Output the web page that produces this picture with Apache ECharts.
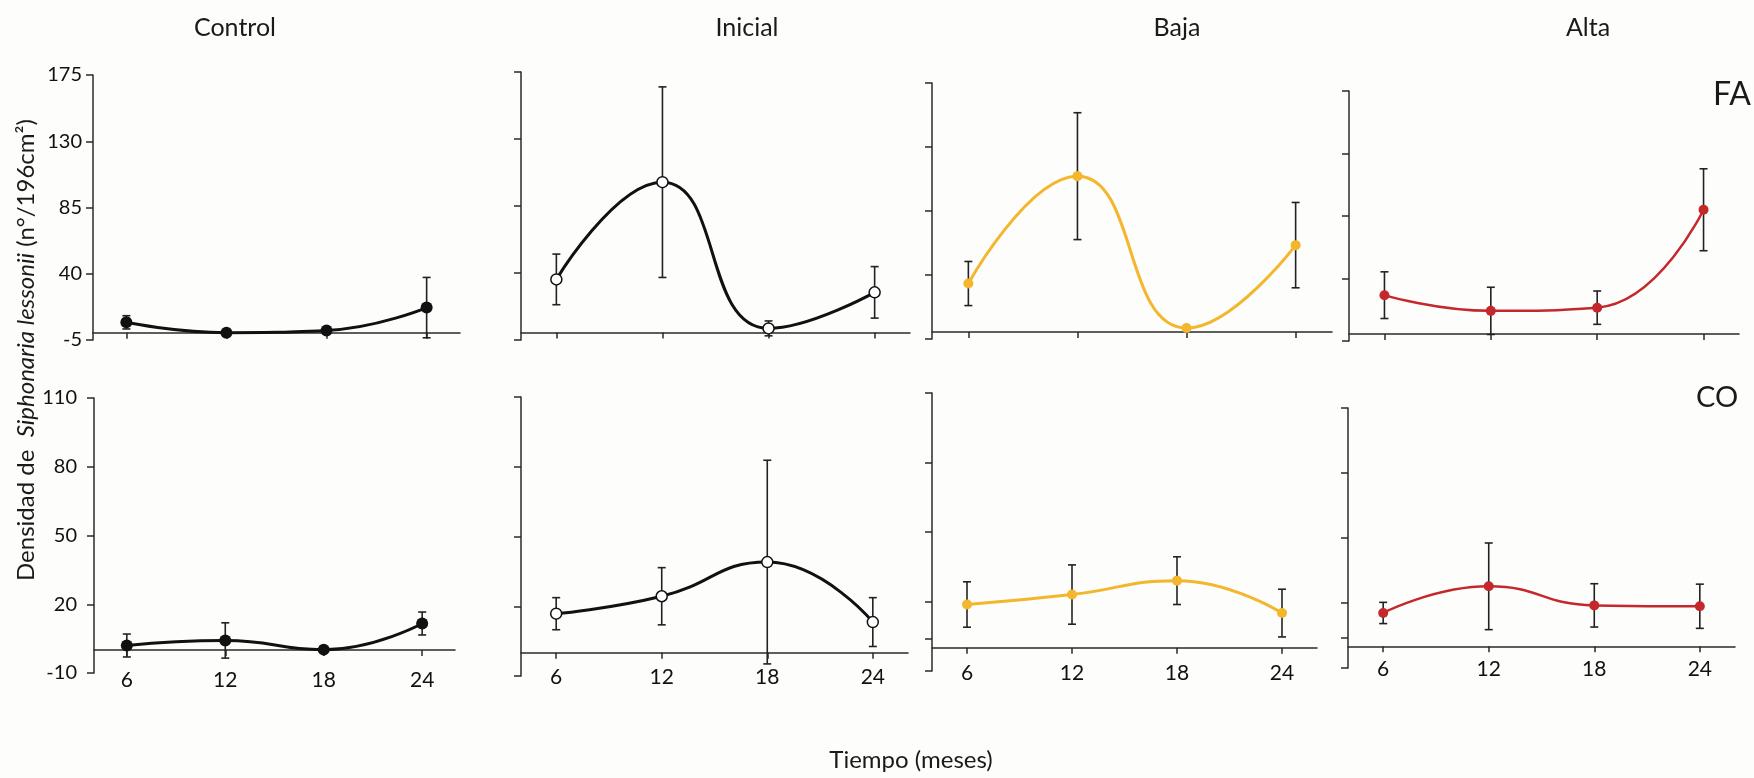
<!DOCTYPE html>
<html>
<head>
<meta charset="utf-8">
<script src="https://cdn.jsdelivr.net/npm/echarts@6/dist/echarts.min.js"></script>
<style>
html,body{margin:0;padding:0;background:#fdfdfb;}
#chart{width:1754px;height:778px;}
</style>
</head>
<body>
<div id="chart"></div>
<script>
// ---- data ----
const months = [6, 12, 18, 24];
const panelNames = ['Control', 'Inicial', 'Baja', 'Alta'];
const rowNames = ['FA', 'CO'];
const faTickLabels = [-5, 40, 85, 130, 175];
const coTickLabels = [-10, 20, 50, 80, 110];

const controlFA = [7, 0, 1.5, 17];
const controlFAerr = [4.5, 0, 1.5, 20.5];
const inicialFA = [35.7, 101, 2.8, 27];
const inicialFAerr = [17, 64, 5, 17.3];
const bajaFA = [34, 109.5, 2.7, 61];
const bajaFAerr = [15.5, 44.6, 0, 30];
const altaFA = [28, 16.7, 19, 89.5];
const altaFAerr = [16.8, 17, 12, 29.5];

const controlCO = [2, 4.2, 0.2, 11.6];
const controlCOerr = [5, 7.7, 0, 5];
const inicialCO = [16.8, 24.3, 39, 13.2];
const inicialCOerr = [6.9, 12.3, 43.8, 10.5];
const bajaCO = [18.7, 23, 29, 15];
const bajaCOerr = [9.8, 12.8, 10.3, 10.3];
const altaCO = [15.4, 27.7, 18.9, 18.5];
const altaCOerr = [4.9, 20, 10, 10.2];

// ---- layout / style ----
const FONT = 'Lato, "Open Sans", sans-serif';
const AX = '#2a2a2a';
const TXT = '#111111';
const grids = [
  {left: 93, top: 75, width: 367, height: 265},
  {left: 521, top: 72, width: 389, height: 268},
  {left: 932, top: 83, width: 400, height: 256},
  {left: 1349, top: 91, width: 390, height: 250},
  {left: 94, top: 398, width: 361, height: 275},
  {left: 521, top: 397, width: 387, height: 279},
  {left: 932, top: 393, width: 385, height: 278},
  {left: 1348, top: 408, width: 387, height: 260}
];
const xLabelMargin = [-3, -9, -8, -9];
const yLabelMargin = [11, 17];

const styles = [
  {color: '#111111', fill: '#111111', size: 12, width: 3},
  {color: '#111111', fill: '#ffffff', size: 11, width: 3},
  {color: '#f4b62c', fill: '#f4b62c', size: 10, width: 3},
  {color: '#c4282a', fill: '#c4282a', size: 10, width: 2.5}
];

const seriesVals = [
  [controlFA, inicialFA, bajaFA, altaFA],
  [controlCO, inicialCO, bajaCO, altaCO]
];
const seriesErrs = [
  [controlFAerr, inicialFAerr, bajaFAerr, altaFAerr],
  [controlCOerr, inicialCOerr, bajaCOerr, altaCOerr]
];

const gridOpts = [], xAxes = [], yAxes = [], series = [];
for (let r = 0; r < 2; r++) {
  for (let c = 0; c < 4; c++) {
    const i = r * 4 + c;
    const g = grids[i];
    gridOpts.push(Object.assign({containLabel: false, outerBoundsMode: 'none'}, g));
    xAxes.push({
      type: 'value', gridIndex: i, min: 4, max: 26,
      axisLine: {show: true, onZero: true, lineStyle: {color: AX, width: 1.5}},
      axisTick: {show: true, length: 6, customValues: months, lineStyle: {color: AX, width: 1.5}},
      axisLabel: {show: r === 1, customValues: months, margin: xLabelMargin[c],
        fontFamily: FONT, fontSize: 21, color: TXT},
      splitLine: {show: false}
    });
    let tickVals = r === 0 ? faTickLabels : coTickLabels;
    let tickOnly = tickVals.slice();
    if (r === 1 && (c === 2 || c === 3)) tickOnly = tickOnly.concat([4]);
    yAxes.push({
      type: 'value', gridIndex: i,
      min: tickVals[0], max: tickVals[tickVals.length - 1],
      axisLine: {show: true, onZero: false, lineStyle: {color: AX, width: 1.5}},
      axisTick: {show: true, length: 7, customValues: tickOnly, lineStyle: {color: AX, width: 1.5}},
      axisLabel: {show: c === 0, customValues: tickVals, margin: yLabelMargin[r],
        fontFamily: FONT, fontSize: 20, color: TXT},
      splitLine: {show: false}
    });
    const vals = seriesVals[r][c], errs = seriesErrs[r][c];
    series.push({
      type: 'custom', xAxisIndex: i, yAxisIndex: i, z: 2,
      data: months.map((m, k) => [m, vals[k], errs[k]]),
      encode: {x: 0, y: 1},
      renderItem: function (params, api) {
        const x = api.value(0), y = api.value(1), e = api.value(2);
        if (!e) return {type: 'group', children: []};
        const t = api.coord([x, y + e]);
        const b = api.coord([x, y - e]);
        const w = 4;
        const st = {stroke: '#222', lineWidth: 1.6};
        return {type: 'group', children: [
          {type: 'line', shape: {x1: t[0], y1: t[1], x2: b[0], y2: b[1]}, style: st},
          {type: 'line', shape: {x1: t[0] - w, y1: t[1], x2: t[0] + w, y2: t[1]}, style: st},
          {type: 'line', shape: {x1: b[0] - w, y1: b[1], x2: b[0] + w, y2: b[1]}, style: st}
        ]};
      }
    });
    const s = styles[c];
    series.push({
      type: 'line', xAxisIndex: i, yAxisIndex: i, z: 3,
      data: months.map((m, k) => [m, vals[k]]),
      smooth: 0.5,
      symbol: 'circle', symbolSize: s.size, showSymbol: true,
      lineStyle: {color: s.color, width: s.width},
      itemStyle: {color: s.fill, borderColor: s.color, borderWidth: c === 1 ? 1.5 : 0},
      emphasis: {disabled: true},
      animation: false
    });
  }
}

const titlePos = [235, 747, 1177, 1588];
const graphics = panelNames.map((n, k) => ({
  type: 'text', x: titlePos[k], y: 28,
  style: {text: n, font: '25px ' + FONT, fill: '#1a1a1a', textAlign: 'center', textVerticalAlign: 'middle'}
}));
graphics.push({type: 'text', x: 1732, y: 95,
  style: {text: rowNames[0], font: '32px ' + FONT, fill: '#1a1a1a', textAlign: 'center', textVerticalAlign: 'middle'}});
graphics.push({type: 'text', x: 1717, y: 398,
  style: {text: rowNames[1], font: '29px ' + FONT, fill: '#1a1a1a', textAlign: 'center', textVerticalAlign: 'middle'}});
graphics.push({type: 'text', x: 911, y: 760,
  style: {text: 'Tiempo (meses)', font: '24px ' + FONT, fill: '#1a1a1a', textAlign: 'center', textVerticalAlign: 'middle'}});
graphics.push({type: 'text', x: 26, y: 350, rotation: Math.PI / 2,
  style: {
    text: '{a|Densidad de  }{b|Siphonaria lessonii}{a| (n°/196cm²)}',
    textAlign: 'center', textVerticalAlign: 'middle',
    rich: {
      a: {fontFamily: FONT, fontSize: 24, fill: '#1a1a1a', color: '#1a1a1a'},
      b: {fontFamily: FONT, fontSize: 24, fontStyle: 'italic', fill: '#1a1a1a', color: '#1a1a1a'}
    }
  }});

const chart = echarts.init(document.getElementById('chart'), null, {renderer: 'canvas'});
chart.setOption({
  backgroundColor: '#fdfdfb',
  animation: false,
  grid: gridOpts,
  xAxis: xAxes,
  yAxis: yAxes,
  series: series,
  graphic: graphics
});
</script>
</body>
</html>
